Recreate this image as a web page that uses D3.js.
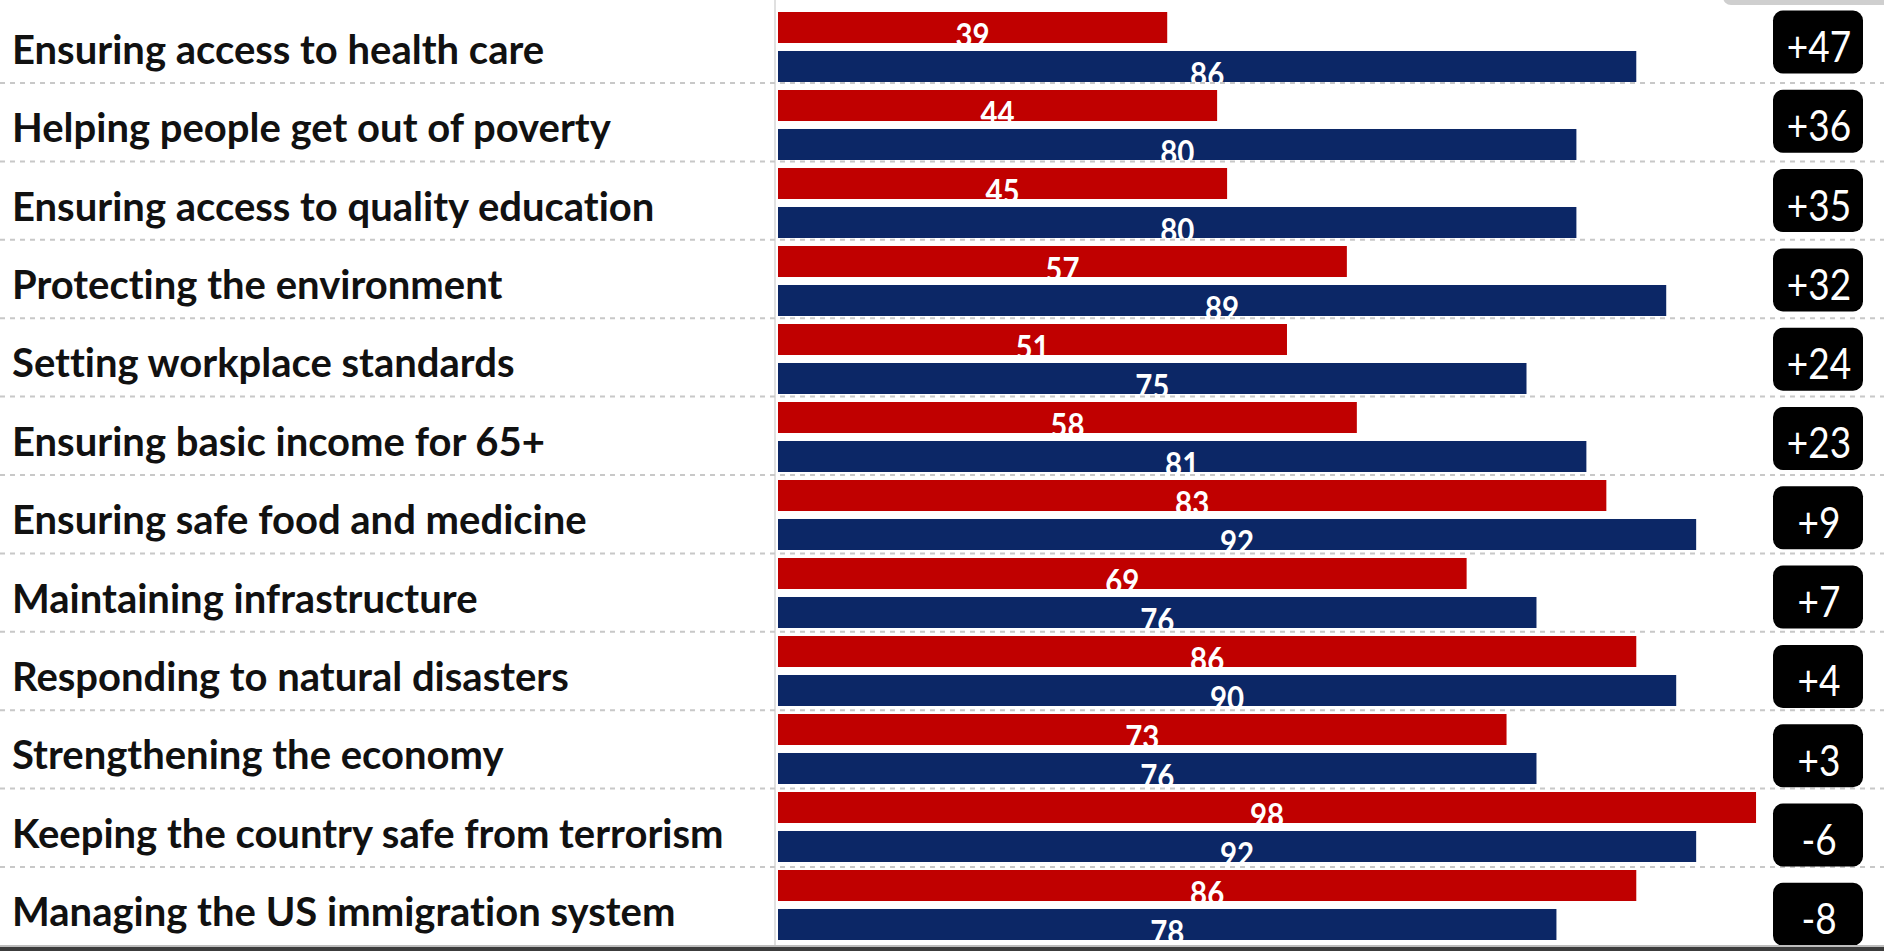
<!DOCTYPE html>
<html>
<head>
<meta charset="utf-8">
<script src="https://cdn.jsdelivr.net/npm/d3@7"></script>
<style>
  html, body { margin: 0; padding: 0; background: #ffffff; overflow: hidden; }
  svg { display: block; }
  text { font-variant-ligatures: none; font-feature-settings: "liga" 0, "clig" 0; }
</style>
</head>
<body>
<svg id="chart" width="1884" height="951"></svg>
<script>
// Government roles, ordered by the size of the partisan gap
const categories = [
  "Ensuring access to health care",
  "Helping people get out of poverty",
  "Ensuring access to quality education",
  "Protecting the environment",
  "Setting workplace standards",
  "Ensuring basic income for 65+",
  "Ensuring safe food and medicine",
  "Maintaining infrastructure",
  "Responding to natural disasters",
  "Strengthening the economy",
  "Keeping the country safe from terrorism",
  "Managing the US immigration system"
];
const seriesNames = ["Rep", "Dem"];
const repValues = [39, 44, 45, 57, 51, 58, 83, 69, 86, 73, 98, 86];
const demValues = [86, 80, 80, 89, 75, 81, 92, 76, 90, 76, 92, 78];
const gapLabels = ["+47", "+36", "+35", "+32", "+24", "+23", "+9", "+7", "+4", "+3", "-6", "-8"];

const rows = categories.map((c, i) => ({
  category: c,
  values: [
    { series: "Rep", value: repValues[i] },
    { series: "Dem", value: demValues[i] }
  ],
  gap: gapLabels[i]
}));

const W = 1884, H = 951;
const svg = d3.select("#chart");
const colors = d3.scaleOrdinal().domain(seriesNames).range(["#c00000", "#0c2766"]);

// Scales
const x = d3.scaleLinear().domain([0, 100]).range([778, 1776]);
const yBars = d3.scaleBand().domain(categories).range([8, 944]);
const ySub = d3.scaleBand().domain(seriesNames).range([4, 74]).paddingInner(0.205);
const yFrame = d3.scaleBand().domain(categories).range([4.6, 945.4]);
const yBox = d3.scaleBand().domain(categories).range([10.5, 945.8]).paddingInner(0.206);

// Background
svg.append("rect").attr("width", W).attr("height", H).attr("fill", "#ffffff");

// Partial grey tab at the top right
svg.append("rect")
  .attr("x", 1723).attr("y", -30).attr("width", 220).attr("height", 35)
  .attr("rx", 8).attr("fill", "#cfcfcf");

// Baseline of the bars
svg.append("line")
  .attr("x1", x(0) - 3).attr("x2", x(0) - 3)
  .attr("y1", 0).attr("y2", H)
  .attr("stroke", "#d6d6d6").attr("stroke-width", 1.5);

// Bars
const rowG = svg.selectAll("g.row").data(rows).join("g")
  .attr("class", "row")
  .attr("transform", d => `translate(0,${yBars(d.category)})`);

rowG.selectAll("rect.bar").data(d => d.values).join("rect")
  .attr("class", "bar")
  .attr("x", x(0))
  .attr("y", d => ySub(d.series))
  .attr("width", d => x(d.value) - x(0))
  .attr("height", ySub.bandwidth())
  .attr("fill", d => colors(d.series));

// Value labels centred on each bar, sitting on its lower edge
rowG.selectAll("text.val").data(d => d.values).join("text")
  .attr("class", "val")
  .attr("transform", d => `translate(${(x(0) + x(d.value)) / 2},${ySub(d.series) + ySub.bandwidth() + 4}) scale(0.92,1)`)
  .attr("text-anchor", "middle")
  .attr("fill", "#ffffff")
  .attr("font-family", "Lato, 'Open Sans', sans-serif")
  .attr("font-weight", 700)
  .attr("font-size", 32)
  .text(d => d.value);

// Dashed row separators
svg.selectAll("line.sep").data(categories.slice(0, -1)).join("line")
  .attr("class", "sep")
  .attr("x1", 0).attr("x2", W)
  .attr("y1", d => yFrame(d) + yFrame.step())
  .attr("y2", d => yFrame(d) + yFrame.step())
  .attr("stroke", "#c8c8c8")
  .attr("stroke-width", 2)
  .attr("stroke-dasharray", "5,5");

// Category labels
svg.selectAll("text.cat").data(categories).join("text")
  .attr("class", "cat")
  .attr("x", 12)
  .attr("y", d => yFrame(d) + yFrame.bandwidth() / 2 + 20)
  .attr("fill", "#111111")
  .attr("font-family", "Lato, 'Open Sans', sans-serif")
  .attr("font-weight", 700)
  .attr("font-size", 40)
  .text(d => d);

// Gap boxes
const boxW = 90;
const boxX = 1773;
const gapG = svg.selectAll("g.gap").data(rows).join("g")
  .attr("class", "gap")
  .attr("transform", d => `translate(${boxX},${yBox(d.category)})`);

gapG.append("rect")
  .attr("width", boxW)
  .attr("height", yBox.bandwidth())
  .attr("rx", 10)
  .attr("fill", "#000000");

gapG.append("text")
  .attr("transform", `translate(${boxW / 2 + 1},${yBox.bandwidth() / 2 + 20}) scale(0.88,1)`)
  .attr("text-anchor", "middle")
  .attr("fill", "#ffffff")
  .attr("font-family", "Lato, 'Open Sans', sans-serif")
  .attr("font-weight", 400)
  .attr("font-size", 42)
  .text(d => d.gap);

// Dark rule along the bottom edge
svg.append("rect").attr("x", 0).attr("y", 945).attr("width", W).attr("height", 2).attr("fill", "#bdbdbd");
svg.append("rect").attr("x", 0).attr("y", 947).attr("width", W).attr("height", 4).attr("fill", "#3c3c3c");
</script>
</body>
</html>
